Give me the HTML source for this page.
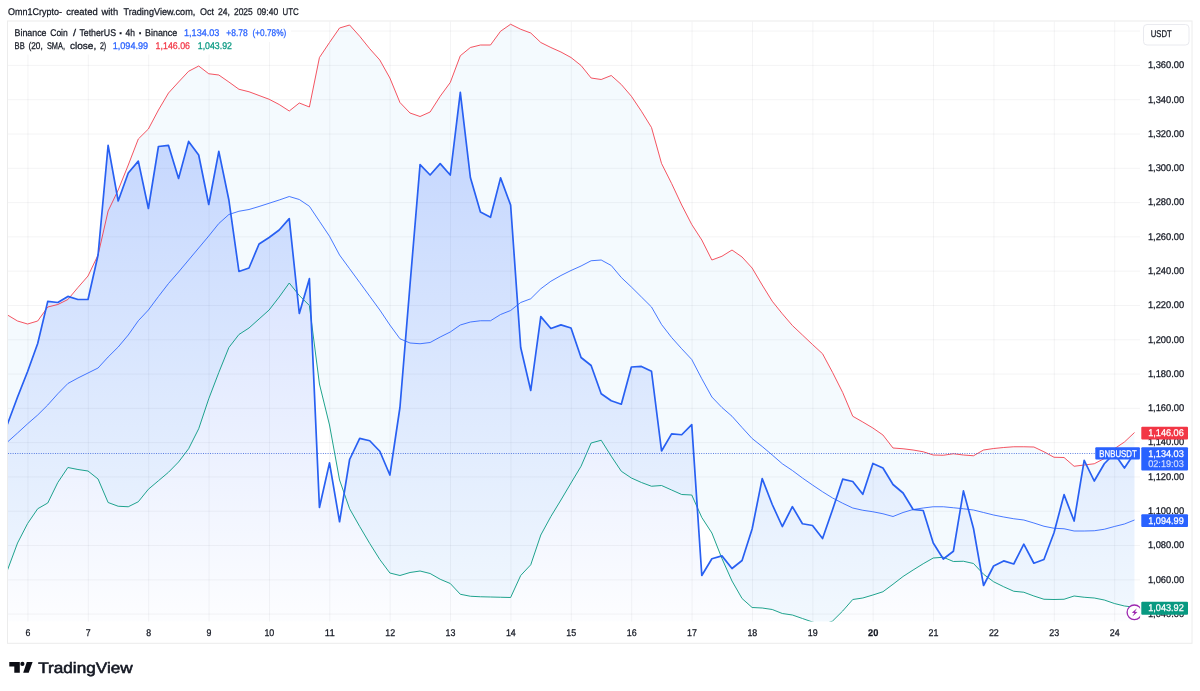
<!DOCTYPE html>
<html lang="en"><head><meta charset="utf-8"><title>BNBUSDT chart</title>
<style>html,body{margin:0;padding:0;background:#fff}body{width:1200px;height:691px;overflow:hidden;font-family:"Liberation Sans",sans-serif}svg{display:block}text{font-family:"Liberation Sans",sans-serif;text-rendering:geometricPrecision}</style></head><body>
<svg width="1200" height="691" viewBox="0 0 1200 691">
<defs><linearGradient id="ag" gradientUnits="userSpaceOnUse" x1="0" y1="90" x2="0" y2="621"><stop offset="0" stop-color="#2962ff" stop-opacity="0.25"/><stop offset="1" stop-color="#2962ff" stop-opacity="0.012"/></linearGradient>
<clipPath id="cp"><rect x="7.5" y="21.5" width="1132.5" height="600.0"/></clipPath></defs>
<rect width="1200" height="691" fill="#fff"/>
<path d="M27.94 21.5V621.5M88.31 21.5V621.5M148.69 21.5V621.5M209.06 21.5V621.5M269.44 21.5V621.5M329.81 21.5V621.5M390.19 21.5V621.5M450.56 21.5V621.5M510.94 21.5V621.5M571.32 21.5V621.5M631.69 21.5V621.5M692.07 21.5V621.5M752.44 21.5V621.5M812.82 21.5V621.5M873.19 21.5V621.5M933.57 21.5V621.5M993.94 21.5V621.5M1054.32 21.5V621.5M1114.69 21.5V621.5M7.5 31.11H1140.0M7.5 65.40H1140.0M7.5 99.70H1140.0M7.5 133.99H1140.0M7.5 168.29H1140.0M7.5 202.58H1140.0M7.5 236.88H1140.0M7.5 271.17H1140.0M7.5 305.47H1140.0M7.5 339.76H1140.0M7.5 374.06H1140.0M7.5 408.35H1140.0M7.5 442.64H1140.0M7.5 476.94H1140.0M7.5 511.24H1140.0M7.5 545.53H1140.0M7.5 579.83H1140.0M7.5 614.12H1140.0" stroke="#2a2e39" stroke-opacity="0.05" stroke-width="1" fill="none"/>
<g clip-path="url(#cp)">
<polygon points="7.50,315.00 17.56,321.00 27.62,324.00 37.69,321.00 47.75,307.00 57.81,304.50 67.88,299.50 77.94,287.50 88.00,276.00 98.06,255.00 108.12,211.00 118.19,190.00 128.25,165.00 138.31,139.00 148.38,129.00 158.44,110.00 168.50,93.00 178.56,82.00 188.62,71.25 198.69,66.00 208.75,73.75 218.81,75.00 228.88,82.00 238.94,89.25 249.00,91.75 259.06,95.50 269.12,99.25 279.19,104.50 289.25,111.00 299.31,103.00 309.38,107.00 319.44,57.50 329.50,42.50 339.56,28.00 349.62,25.00 359.69,36.25 369.75,48.75 379.81,60.00 389.88,78.00 399.94,102.50 410.00,113.00 420.06,116.50 430.12,112.00 440.19,96.25 450.25,82.50 460.31,55.75 470.38,47.50 480.44,45.00 490.50,45.00 500.56,31.25 510.62,24.25 520.69,29.25 530.75,33.00 540.81,42.50 550.88,47.50 560.94,52.00 571.00,57.50 581.06,65.50 591.12,78.00 601.19,79.50 611.25,75.50 621.31,84.50 631.38,96.25 641.44,111.25 651.50,127.50 661.56,163.50 671.62,183.50 681.69,205.00 691.75,224.50 701.81,240.00 711.88,260.00 721.94,256.25 732.00,250.00 742.06,257.00 752.12,268.00 762.19,285.00 772.25,301.25 782.31,313.75 792.38,325.50 802.44,335.00 812.50,344.50 822.56,353.75 832.62,372.50 842.69,392.50 852.75,416.25 862.81,422.00 872.88,428.00 882.94,435.00 893.00,448.00 903.06,448.75 913.12,450.00 923.19,451.75 933.25,455.00 943.31,455.25 953.38,453.75 963.44,455.00 973.50,455.75 983.56,450.00 993.62,448.50 1003.69,447.50 1013.75,446.75 1023.81,446.75 1033.88,447.00 1043.94,451.75 1054.00,457.25 1064.06,457.50 1074.12,466.25 1084.19,465.00 1094.25,463.75 1104.31,458.50 1114.38,448.75 1124.44,442.00 1134.50,432.50 1134.50,607.25 1124.44,606.00 1114.38,603.50 1104.31,600.00 1094.25,598.00 1084.19,597.25 1074.12,596.00 1064.06,599.25 1054.00,599.50 1043.94,599.25 1033.88,596.00 1023.81,592.25 1013.75,591.25 1003.69,586.75 993.62,581.75 983.56,574.25 973.50,563.50 963.44,561.25 953.38,561.50 943.31,557.25 933.25,558.00 923.19,563.75 913.12,570.00 903.06,576.50 893.00,584.25 882.94,591.75 872.88,595.00 862.81,598.00 852.75,599.50 842.69,611.00 832.62,621.00 822.56,625.00 812.50,622.00 802.44,618.50 792.38,615.00 782.31,613.50 772.25,609.50 762.19,608.00 752.12,607.50 742.06,598.50 732.00,581.00 721.94,558.50 711.88,533.00 701.81,517.50 691.75,495.00 681.69,494.50 671.62,490.00 661.56,485.50 651.50,486.25 641.44,482.50 631.38,478.00 621.31,471.25 611.25,456.25 601.19,440.25 591.12,443.00 581.06,466.25 571.00,483.00 560.94,500.00 550.88,516.50 540.81,535.00 530.75,564.75 520.69,575.50 510.62,597.50 500.56,597.25 490.50,597.00 480.44,596.75 470.38,596.25 460.31,594.25 450.25,583.50 440.19,579.25 430.12,573.50 420.06,571.00 410.00,572.50 399.94,575.50 389.88,573.00 379.81,559.50 369.75,543.50 359.69,526.50 349.62,508.75 339.56,480.00 329.50,425.00 319.44,384.00 309.38,305.50 299.31,295.50 289.25,283.00 279.19,297.00 269.12,310.00 259.06,319.00 249.00,328.00 238.94,334.50 228.88,347.50 218.81,372.50 208.75,398.75 198.69,428.75 188.62,448.75 178.56,462.00 168.50,472.25 158.44,480.75 148.38,489.25 138.31,501.75 128.25,506.75 118.19,506.25 108.12,502.50 98.06,479.00 88.00,471.00 77.94,469.50 67.88,467.50 57.81,482.50 47.75,503.00 37.69,508.75 27.62,523.50 17.56,543.00 7.50,570.00" fill="#2196f3" fill-opacity="0.05"/>
<polygon points="7.50,424.00 17.56,397.00 27.62,371.50 37.69,343.50 47.75,301.40 57.81,302.50 67.88,296.40 77.94,299.50 88.00,299.50 98.06,255.00 108.12,145.40 118.19,201.00 128.25,173.00 138.31,161.15 148.38,208.50 158.44,146.50 168.50,145.40 178.56,178.50 188.62,141.40 198.69,155.00 208.75,204.50 218.81,151.40 228.88,200.00 238.94,271.50 249.00,268.00 259.06,244.00 269.12,237.50 279.19,230.00 289.25,218.65 299.31,313.50 309.38,278.65 319.44,507.50 329.50,462.90 339.56,521.75 349.62,459.50 359.69,438.40 369.75,440.75 379.81,451.25 389.88,475.00 399.94,407.50 410.00,285.00 420.06,164.65 430.12,175.00 440.19,163.65 450.25,175.00 460.31,92.40 470.38,177.50 480.44,212.00 490.50,217.25 500.56,177.90 510.62,205.00 520.69,347.50 530.75,390.50 540.81,316.65 550.88,328.50 560.94,324.90 571.00,328.00 581.06,357.50 591.12,365.50 601.19,393.75 611.25,400.75 621.31,404.25 631.38,367.00 641.44,366.40 651.50,371.25 661.56,451.00 671.62,433.90 681.69,434.75 691.75,424.65 701.81,575.50 711.88,558.75 721.94,555.90 732.00,568.50 742.06,560.50 752.12,529.00 762.19,478.65 772.25,504.50 782.31,526.50 792.38,506.65 802.44,523.75 812.50,525.50 822.56,538.50 832.62,509.50 842.69,479.15 852.75,481.50 862.81,494.25 872.88,463.40 882.94,468.00 893.00,484.50 903.06,493.00 913.12,509.50 923.19,510.50 933.25,543.00 943.31,559.00 953.38,551.25 963.44,490.90 973.50,528.50 983.56,585.50 993.62,566.00 1003.69,560.90 1013.75,564.00 1023.81,544.15 1033.88,563.25 1043.94,559.50 1054.00,532.75 1064.06,494.65 1074.12,521.00 1084.19,460.40 1094.25,481.00 1104.31,463.75 1114.38,453.40 1124.44,468.00 1134.50,453.00 1134.50,621.5 7.50,621.5" fill="url(#ag)"/>
<polyline points="7.50,315.00 17.56,321.00 27.62,324.00 37.69,321.00 47.75,307.00 57.81,304.50 67.88,299.50 77.94,287.50 88.00,276.00 98.06,255.00 108.12,211.00 118.19,190.00 128.25,165.00 138.31,139.00 148.38,129.00 158.44,110.00 168.50,93.00 178.56,82.00 188.62,71.25 198.69,66.00 208.75,73.75 218.81,75.00 228.88,82.00 238.94,89.25 249.00,91.75 259.06,95.50 269.12,99.25 279.19,104.50 289.25,111.00 299.31,103.00 309.38,107.00 319.44,57.50 329.50,42.50 339.56,28.00 349.62,25.00 359.69,36.25 369.75,48.75 379.81,60.00 389.88,78.00 399.94,102.50 410.00,113.00 420.06,116.50 430.12,112.00 440.19,96.25 450.25,82.50 460.31,55.75 470.38,47.50 480.44,45.00 490.50,45.00 500.56,31.25 510.62,24.25 520.69,29.25 530.75,33.00 540.81,42.50 550.88,47.50 560.94,52.00 571.00,57.50 581.06,65.50 591.12,78.00 601.19,79.50 611.25,75.50 621.31,84.50 631.38,96.25 641.44,111.25 651.50,127.50 661.56,163.50 671.62,183.50 681.69,205.00 691.75,224.50 701.81,240.00 711.88,260.00 721.94,256.25 732.00,250.00 742.06,257.00 752.12,268.00 762.19,285.00 772.25,301.25 782.31,313.75 792.38,325.50 802.44,335.00 812.50,344.50 822.56,353.75 832.62,372.50 842.69,392.50 852.75,416.25 862.81,422.00 872.88,428.00 882.94,435.00 893.00,448.00 903.06,448.75 913.12,450.00 923.19,451.75 933.25,455.00 943.31,455.25 953.38,453.75 963.44,455.00 973.50,455.75 983.56,450.00 993.62,448.50 1003.69,447.50 1013.75,446.75 1023.81,446.75 1033.88,447.00 1043.94,451.75 1054.00,457.25 1064.06,457.50 1074.12,466.25 1084.19,465.00 1094.25,463.75 1104.31,458.50 1114.38,448.75 1124.44,442.00 1134.50,432.50" fill="none" stroke="#f23645" stroke-opacity="0.85" stroke-width="1" stroke-linejoin="round"/>
<polyline points="7.50,570.00 17.56,543.00 27.62,523.50 37.69,508.75 47.75,503.00 57.81,482.50 67.88,467.50 77.94,469.50 88.00,471.00 98.06,479.00 108.12,502.50 118.19,506.25 128.25,506.75 138.31,501.75 148.38,489.25 158.44,480.75 168.50,472.25 178.56,462.00 188.62,448.75 198.69,428.75 208.75,398.75 218.81,372.50 228.88,347.50 238.94,334.50 249.00,328.00 259.06,319.00 269.12,310.00 279.19,297.00 289.25,283.00 299.31,295.50 309.38,305.50 319.44,384.00 329.50,425.00 339.56,480.00 349.62,508.75 359.69,526.50 369.75,543.50 379.81,559.50 389.88,573.00 399.94,575.50 410.00,572.50 420.06,571.00 430.12,573.50 440.19,579.25 450.25,583.50 460.31,594.25 470.38,596.25 480.44,596.75 490.50,597.00 500.56,597.25 510.62,597.50 520.69,575.50 530.75,564.75 540.81,535.00 550.88,516.50 560.94,500.00 571.00,483.00 581.06,466.25 591.12,443.00 601.19,440.25 611.25,456.25 621.31,471.25 631.38,478.00 641.44,482.50 651.50,486.25 661.56,485.50 671.62,490.00 681.69,494.50 691.75,495.00 701.81,517.50 711.88,533.00 721.94,558.50 732.00,581.00 742.06,598.50 752.12,607.50 762.19,608.00 772.25,609.50 782.31,613.50 792.38,615.00 802.44,618.50 812.50,622.00 822.56,625.00 832.62,621.00 842.69,611.00 852.75,599.50 862.81,598.00 872.88,595.00 882.94,591.75 893.00,584.25 903.06,576.50 913.12,570.00 923.19,563.75 933.25,558.00 943.31,557.25 953.38,561.50 963.44,561.25 973.50,563.50 983.56,574.25 993.62,581.75 1003.69,586.75 1013.75,591.25 1023.81,592.25 1033.88,596.00 1043.94,599.25 1054.00,599.50 1064.06,599.25 1074.12,596.00 1084.19,597.25 1094.25,598.00 1104.31,600.00 1114.38,603.50 1124.44,606.00 1134.50,607.25" fill="none" stroke="#089981" stroke-opacity="0.9" stroke-width="1" stroke-linejoin="round"/>
<polyline points="7.50,442.00 17.56,433.00 27.62,423.75 37.69,415.00 47.75,405.00 57.81,393.75 67.88,383.50 77.94,378.00 88.00,373.00 98.06,368.00 108.12,357.00 118.19,347.00 128.25,335.00 138.31,320.75 148.38,310.00 158.44,296.50 168.50,283.50 178.56,272.00 188.62,260.00 198.69,248.00 208.75,236.00 218.81,223.50 228.88,214.50 238.94,211.25 249.00,209.50 259.06,206.50 269.12,203.25 279.19,200.00 289.25,196.50 299.31,199.50 309.38,206.25 319.44,221.25 329.50,236.25 339.56,255.00 349.62,268.75 359.69,282.50 369.75,296.25 379.81,310.00 389.88,325.00 399.94,338.75 410.00,343.00 420.06,343.75 430.12,342.50 440.19,337.00 450.25,332.00 460.31,325.00 470.38,322.00 480.44,320.75 490.50,320.75 500.56,314.50 510.62,310.50 520.69,302.50 530.75,298.75 540.81,288.75 550.88,281.25 560.94,275.50 571.00,270.50 581.06,266.00 591.12,260.75 601.19,260.00 611.25,265.50 621.31,277.50 631.38,287.00 641.44,297.00 651.50,307.00 661.56,324.50 671.62,337.50 681.69,348.75 691.75,359.50 701.81,378.75 711.88,397.00 721.94,407.50 732.00,416.25 742.06,427.50 752.12,438.50 762.19,446.50 772.25,455.00 782.31,463.75 792.38,470.50 802.44,478.00 812.50,485.00 822.56,491.75 832.62,498.00 842.69,503.25 852.75,508.00 862.81,510.25 872.88,511.75 882.94,513.75 893.00,516.50 903.06,512.50 913.12,509.50 923.19,508.00 933.25,506.75 943.31,506.75 953.38,507.75 963.44,508.75 973.50,510.00 983.56,512.50 993.62,515.00 1003.69,517.00 1013.75,518.75 1023.81,520.00 1033.88,523.00 1043.94,526.25 1054.00,528.25 1064.06,528.75 1074.12,531.00 1084.19,531.00 1094.25,530.75 1104.31,529.25 1114.38,526.50 1124.44,524.00 1134.50,520.00" fill="none" stroke="#2962ff" stroke-opacity="0.85" stroke-width="1" stroke-linejoin="round"/>
<polyline points="7.50,424.00 17.56,397.00 27.62,371.50 37.69,343.50 47.75,301.40 57.81,302.50 67.88,296.40 77.94,299.50 88.00,299.50 98.06,255.00 108.12,145.40 118.19,201.00 128.25,173.00 138.31,161.15 148.38,208.50 158.44,146.50 168.50,145.40 178.56,178.50 188.62,141.40 198.69,155.00 208.75,204.50 218.81,151.40 228.88,200.00 238.94,271.50 249.00,268.00 259.06,244.00 269.12,237.50 279.19,230.00 289.25,218.65 299.31,313.50 309.38,278.65 319.44,507.50 329.50,462.90 339.56,521.75 349.62,459.50 359.69,438.40 369.75,440.75 379.81,451.25 389.88,475.00 399.94,407.50 410.00,285.00 420.06,164.65 430.12,175.00 440.19,163.65 450.25,175.00 460.31,92.40 470.38,177.50 480.44,212.00 490.50,217.25 500.56,177.90 510.62,205.00 520.69,347.50 530.75,390.50 540.81,316.65 550.88,328.50 560.94,324.90 571.00,328.00 581.06,357.50 591.12,365.50 601.19,393.75 611.25,400.75 621.31,404.25 631.38,367.00 641.44,366.40 651.50,371.25 661.56,451.00 671.62,433.90 681.69,434.75 691.75,424.65 701.81,575.50 711.88,558.75 721.94,555.90 732.00,568.50 742.06,560.50 752.12,529.00 762.19,478.65 772.25,504.50 782.31,526.50 792.38,506.65 802.44,523.75 812.50,525.50 822.56,538.50 832.62,509.50 842.69,479.15 852.75,481.50 862.81,494.25 872.88,463.40 882.94,468.00 893.00,484.50 903.06,493.00 913.12,509.50 923.19,510.50 933.25,543.00 943.31,559.00 953.38,551.25 963.44,490.90 973.50,528.50 983.56,585.50 993.62,566.00 1003.69,560.90 1013.75,564.00 1023.81,544.15 1033.88,563.25 1043.94,559.50 1054.00,532.75 1064.06,494.65 1074.12,521.00 1084.19,460.40 1094.25,481.00 1104.31,463.75 1114.38,453.40 1124.44,468.00 1134.50,453.00" fill="none" stroke="#2860f2" stroke-width="1.7" stroke-linejoin="round" stroke-linecap="round"/>
<path d="M8 453.5H1140.0" stroke="#2452d6" stroke-opacity="0.8" stroke-width="1" stroke-dasharray="0.9 1.45" fill="none"/>
</g>
<rect x="7.5" y="21" width="1184.5" height="622.3" fill="none" stroke="#ececec" stroke-width="1"/>
<text y="14.7" font-size="9.7" fill="#131722" stroke="#131722" stroke-width="0.25"><tspan x="8.10" textLength="53.80" lengthAdjust="spacingAndGlyphs">Omn1Crypto-</tspan> <tspan x="66.25" textLength="31.50" lengthAdjust="spacingAndGlyphs">created</tspan> <tspan x="101.50" textLength="16.60" lengthAdjust="spacingAndGlyphs">with</tspan> <tspan x="123.50" textLength="71.75" lengthAdjust="spacingAndGlyphs">TradingView.com,</tspan> <tspan x="200.00" textLength="14.00" lengthAdjust="spacingAndGlyphs">Oct</tspan> <tspan x="218.10" textLength="11.90" lengthAdjust="spacingAndGlyphs">24,</tspan> <tspan x="234.00" textLength="18.75" lengthAdjust="spacingAndGlyphs">2025</tspan> <tspan x="256.90" textLength="21.20" lengthAdjust="spacingAndGlyphs">09:40</tspan> <tspan x="282.50" textLength="16.25" lengthAdjust="spacingAndGlyphs">UTC</tspan></text>
<rect x="8" y="22" width="283" height="20" fill="#fff"/><rect x="8" y="41" width="229" height="13.5" fill="#fff"/>
<text y="35.7" font-size="9.7" fill="#131722" stroke="#131722" stroke-width="0.25"><tspan x="14.60" textLength="31.90" lengthAdjust="spacingAndGlyphs">Binance</tspan> <tspan x="50.25" textLength="17.50" lengthAdjust="spacingAndGlyphs">Coin</tspan> <tspan x="72.90" textLength="3.10" lengthAdjust="spacingAndGlyphs">/</tspan> <tspan x="79.40" textLength="36.60" lengthAdjust="spacingAndGlyphs">TetherUS</tspan> <tspan x="119.03" dy="0.9" font-weight="bold" font-size="11.5">·</tspan> <tspan x="125.60" dy="-0.9" textLength="9.40" lengthAdjust="spacingAndGlyphs">4h</tspan> <tspan x="138.43" dy="0.9" font-weight="bold" font-size="11.5">·</tspan> <tspan x="145.00" dy="-0.9" textLength="32.25" lengthAdjust="spacingAndGlyphs">Binance</tspan></text>
<text y="35.7" font-size="9.7" fill="#2962ff" stroke="#2962ff" stroke-width="0.25"><tspan x="184.00" textLength="35.40" lengthAdjust="spacingAndGlyphs">1,134.03</tspan> <tspan x="226.25" textLength="21.50" lengthAdjust="spacingAndGlyphs">+8.78</tspan> <tspan x="252.50" textLength="33.75" lengthAdjust="spacingAndGlyphs">(+0.78%)</tspan></text>
<text y="49.1" font-size="9.7" fill="#131722" stroke="#131722" stroke-width="0.25"><tspan x="14.60" textLength="10.15" lengthAdjust="spacingAndGlyphs">BB</tspan> <tspan x="28.50" textLength="14.25" lengthAdjust="spacingAndGlyphs">(20,</tspan> <tspan x="46.90" textLength="18.10" lengthAdjust="spacingAndGlyphs">SMA,</tspan> <tspan x="70.00" textLength="26.25" lengthAdjust="spacingAndGlyphs">close,</tspan> <tspan x="99.90" textLength="6.30" lengthAdjust="spacingAndGlyphs">2)</tspan></text>
<text y="49.1" font-size="9.7" fill="#2962ff" stroke="#2962ff" stroke-width="0.25"><tspan x="112.75" textLength="35.35" lengthAdjust="spacingAndGlyphs">1,094.99</tspan></text>
<text y="49.1" font-size="9.7" fill="#f23645" stroke="#f23645" stroke-width="0.25"><tspan x="155.60" textLength="34.40" lengthAdjust="spacingAndGlyphs">1,146.06</tspan></text>
<text y="49.1" font-size="9.7" fill="#089981" stroke="#089981" stroke-width="0.25"><tspan x="197.75" textLength="34.15" lengthAdjust="spacingAndGlyphs">1,043.92</tspan></text>
<text x="1147.9" y="68.2" font-size="9.7" fill="#131722" stroke="#131722" stroke-width="0.25" text-anchor="start" textLength="36.3" lengthAdjust="spacingAndGlyphs">1,360.00</text>
<text x="1147.9" y="102.5" font-size="9.7" fill="#131722" stroke="#131722" stroke-width="0.25" text-anchor="start" textLength="36.3" lengthAdjust="spacingAndGlyphs">1,340.00</text>
<text x="1147.9" y="136.8" font-size="9.7" fill="#131722" stroke="#131722" stroke-width="0.25" text-anchor="start" textLength="36.3" lengthAdjust="spacingAndGlyphs">1,320.00</text>
<text x="1147.9" y="171.1" font-size="9.7" fill="#131722" stroke="#131722" stroke-width="0.25" text-anchor="start" textLength="36.3" lengthAdjust="spacingAndGlyphs">1,300.00</text>
<text x="1147.9" y="205.4" font-size="9.7" fill="#131722" stroke="#131722" stroke-width="0.25" text-anchor="start" textLength="36.3" lengthAdjust="spacingAndGlyphs">1,280.00</text>
<text x="1147.9" y="239.7" font-size="9.7" fill="#131722" stroke="#131722" stroke-width="0.25" text-anchor="start" textLength="36.3" lengthAdjust="spacingAndGlyphs">1,260.00</text>
<text x="1147.9" y="274.0" font-size="9.7" fill="#131722" stroke="#131722" stroke-width="0.25" text-anchor="start" textLength="36.3" lengthAdjust="spacingAndGlyphs">1,240.00</text>
<text x="1147.9" y="308.3" font-size="9.7" fill="#131722" stroke="#131722" stroke-width="0.25" text-anchor="start" textLength="36.3" lengthAdjust="spacingAndGlyphs">1,220.00</text>
<text x="1147.9" y="342.6" font-size="9.7" fill="#131722" stroke="#131722" stroke-width="0.25" text-anchor="start" textLength="36.3" lengthAdjust="spacingAndGlyphs">1,200.00</text>
<text x="1147.9" y="376.9" font-size="9.7" fill="#131722" stroke="#131722" stroke-width="0.25" text-anchor="start" textLength="36.3" lengthAdjust="spacingAndGlyphs">1,180.00</text>
<text x="1147.9" y="411.2" font-size="9.7" fill="#131722" stroke="#131722" stroke-width="0.25" text-anchor="start" textLength="36.3" lengthAdjust="spacingAndGlyphs">1,160.00</text>
<text x="1147.9" y="445.4" font-size="9.7" fill="#131722" stroke="#131722" stroke-width="0.25" text-anchor="start" textLength="36.3" lengthAdjust="spacingAndGlyphs">1,140.00</text>
<text x="1147.9" y="479.7" font-size="9.7" fill="#131722" stroke="#131722" stroke-width="0.25" text-anchor="start" textLength="36.3" lengthAdjust="spacingAndGlyphs">1,120.00</text>
<text x="1147.9" y="514.0" font-size="9.7" fill="#131722" stroke="#131722" stroke-width="0.25" text-anchor="start" textLength="36.3" lengthAdjust="spacingAndGlyphs">1,100.00</text>
<text x="1147.9" y="548.3" font-size="9.7" fill="#131722" stroke="#131722" stroke-width="0.25" text-anchor="start" textLength="36.3" lengthAdjust="spacingAndGlyphs">1,080.00</text>
<text x="1147.9" y="582.6" font-size="9.7" fill="#131722" stroke="#131722" stroke-width="0.25" text-anchor="start" textLength="36.3" lengthAdjust="spacingAndGlyphs">1,060.00</text>
<text x="1147.9" y="616.9" font-size="9.7" fill="#131722" stroke="#131722" stroke-width="0.25" text-anchor="start" textLength="36.3" lengthAdjust="spacingAndGlyphs">1,040.00</text>
<text x="25.4" y="636.0" font-size="9.7" fill="#131722" stroke="#131722" stroke-width="0.25" text-anchor="start" textLength="4.9" lengthAdjust="spacingAndGlyphs">6</text>
<text x="85.8" y="636.0" font-size="9.7" fill="#131722" stroke="#131722" stroke-width="0.25" text-anchor="start" textLength="4.9" lengthAdjust="spacingAndGlyphs">7</text>
<text x="146.2" y="636.0" font-size="9.7" fill="#131722" stroke="#131722" stroke-width="0.25" text-anchor="start" textLength="4.9" lengthAdjust="spacingAndGlyphs">8</text>
<text x="206.6" y="636.0" font-size="9.7" fill="#131722" stroke="#131722" stroke-width="0.25" text-anchor="start" textLength="4.9" lengthAdjust="spacingAndGlyphs">9</text>
<text x="264.4" y="636.0" font-size="9.7" fill="#131722" stroke="#131722" stroke-width="0.25" text-anchor="start" textLength="9.9" lengthAdjust="spacingAndGlyphs">10</text>
<text x="324.8" y="636.0" font-size="9.7" fill="#131722" stroke="#131722" stroke-width="0.25" text-anchor="start" textLength="9.9" lengthAdjust="spacingAndGlyphs">11</text>
<text x="385.2" y="636.0" font-size="9.7" fill="#131722" stroke="#131722" stroke-width="0.25" text-anchor="start" textLength="9.9" lengthAdjust="spacingAndGlyphs">12</text>
<text x="445.6" y="636.0" font-size="9.7" fill="#131722" stroke="#131722" stroke-width="0.25" text-anchor="start" textLength="9.9" lengthAdjust="spacingAndGlyphs">13</text>
<text x="505.9" y="636.0" font-size="9.7" fill="#131722" stroke="#131722" stroke-width="0.25" text-anchor="start" textLength="9.9" lengthAdjust="spacingAndGlyphs">14</text>
<text x="566.3" y="636.0" font-size="9.7" fill="#131722" stroke="#131722" stroke-width="0.25" text-anchor="start" textLength="9.9" lengthAdjust="spacingAndGlyphs">15</text>
<text x="626.7" y="636.0" font-size="9.7" fill="#131722" stroke="#131722" stroke-width="0.25" text-anchor="start" textLength="9.9" lengthAdjust="spacingAndGlyphs">16</text>
<text x="687.1" y="636.0" font-size="9.7" fill="#131722" stroke="#131722" stroke-width="0.25" text-anchor="start" textLength="9.9" lengthAdjust="spacingAndGlyphs">17</text>
<text x="747.4" y="636.0" font-size="9.7" fill="#131722" stroke="#131722" stroke-width="0.25" text-anchor="start" textLength="9.9" lengthAdjust="spacingAndGlyphs">18</text>
<text x="807.8" y="636.0" font-size="9.7" fill="#131722" stroke="#131722" stroke-width="0.25" text-anchor="start" textLength="9.9" lengthAdjust="spacingAndGlyphs">19</text>
<text x="868.0" y="636.0" font-size="9.7" fill="#131722" stroke="#131722" stroke-width="0.25" text-anchor="start" textLength="10.3" lengthAdjust="spacingAndGlyphs" font-weight="bold">20</text>
<text x="928.6" y="636.0" font-size="9.7" fill="#131722" stroke="#131722" stroke-width="0.25" text-anchor="start" textLength="9.9" lengthAdjust="spacingAndGlyphs">21</text>
<text x="988.9" y="636.0" font-size="9.7" fill="#131722" stroke="#131722" stroke-width="0.25" text-anchor="start" textLength="9.9" lengthAdjust="spacingAndGlyphs">22</text>
<text x="1049.3" y="636.0" font-size="9.7" fill="#131722" stroke="#131722" stroke-width="0.25" text-anchor="start" textLength="9.9" lengthAdjust="spacingAndGlyphs">23</text>
<text x="1109.7" y="636.0" font-size="9.7" fill="#131722" stroke="#131722" stroke-width="0.25" text-anchor="start" textLength="9.9" lengthAdjust="spacingAndGlyphs">24</text>
<rect x="1143.5" y="24.5" width="45.5" height="20.5" rx="3.5" fill="#fff" stroke="#e9eaef"/>
<text x="1150.8" y="37.4" font-size="9.7" fill="#131722" stroke="#131722" stroke-width="0.25" text-anchor="start" textLength="21.0" lengthAdjust="spacingAndGlyphs">USDT</text>
<circle cx="1134.4" cy="612.3" r="7.3" fill="#fff" stroke="#9c27b0" stroke-width="1.3"/>
<path d="M1137 608.2L1131.8 612.7L1134.4 613L1132.4 616.6L1137.5 612.1L1134.9 611.8Z" fill="#9c27b0"/>
<rect x="1140.1" y="600" width="8" height="22" fill="#fff"/>
<rect x="1141.3" y="426.7" width="46.7" height="12.9" rx="1" fill="#f23645"/>
<text x="1148.2" y="436.0" font-size="9.7" fill="#fff" stroke="#fff" stroke-width="0.25" text-anchor="start" textLength="35.6" lengthAdjust="spacingAndGlyphs">1,146.06</text>
<rect x="1141.3" y="447.2" width="46.7" height="23.3" rx="1" fill="#2962ff"/>
<text x="1148.2" y="456.5" font-size="9.7" fill="#fff" stroke="#fff" stroke-width="0.25" text-anchor="start" textLength="35.6" lengthAdjust="spacingAndGlyphs">1,134.03</text>
<text x="1148.2" y="467.3" font-size="9.7" fill="#fff" stroke="#fff" stroke-width="0.25" text-anchor="start" textLength="35.6" lengthAdjust="spacingAndGlyphs" fill-opacity="0.75" stroke-opacity="0.5">02:19:03</text>
<rect x="1095.3" y="447.2" width="44.6" height="12.4" rx="1" fill="#2962ff"/>
<text x="1099.3" y="456.5" font-size="9.7" fill="#fff" stroke="#fff" stroke-width="0.25" text-anchor="start" textLength="37.4" lengthAdjust="spacingAndGlyphs">BNBUSDT</text>
<rect x="1141.3" y="514.2" width="46.7" height="12.9" rx="1" fill="#2962ff"/>
<text x="1148.2" y="523.5" font-size="9.7" fill="#fff" stroke="#fff" stroke-width="0.25" text-anchor="start" textLength="35.6" lengthAdjust="spacingAndGlyphs">1,094.99</text>
<rect x="1141.3" y="601.8" width="46.7" height="12.9" rx="1" fill="#089981"/>
<text x="1148.2" y="611.1" font-size="9.7" fill="#fff" stroke="#fff" stroke-width="0.25" text-anchor="start" textLength="35.6" lengthAdjust="spacingAndGlyphs">1,043.92</text>
<g fill="#0c0e15"><path d="M9.3 661.9H19.8V672.8H14.3V666.6H9.3Z"/><circle cx="22.4" cy="663.9" r="2.1"/><path d="M26.8 661.9H32.6L28.7 672.8H23.2Z"/></g>
<text x="38.2" y="672.8" font-size="15.2" fill="#131722" stroke="#131722" stroke-width="0.55" textLength="94.5" lengthAdjust="spacingAndGlyphs">TradingView</text>
</svg></body></html>
